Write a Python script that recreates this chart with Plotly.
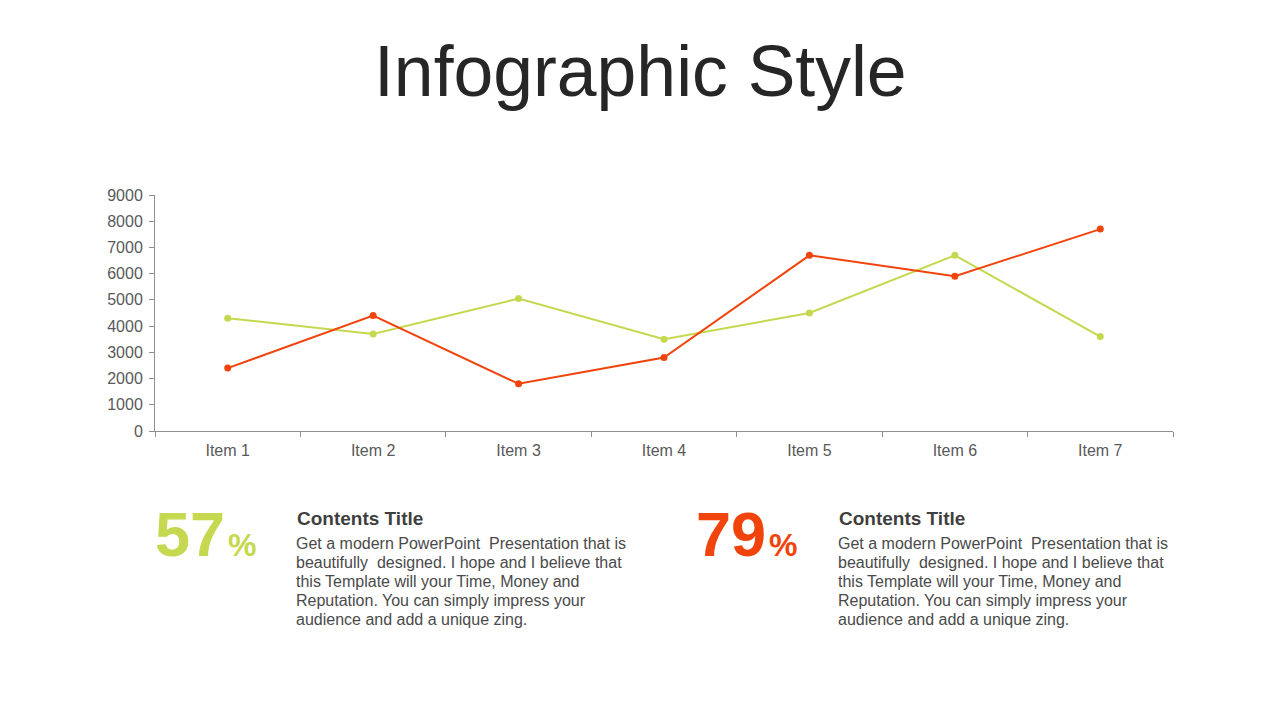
import plotly.graph_objects as go

categories = ["Item 1", "Item 2", "Item 3", "Item 4", "Item 5", "Item 6", "Item 7"]
series_green = [4300, 3700, 5050, 3500, 4500, 6700, 3600]
series_red = [2400, 4400, 1800, 2800, 6700, 5900, 7700]
y_ticks = [0, 1000, 2000, 3000, 4000, 5000, 6000, 7000, 8000, 9000]

GREEN = "#c5d84f"
RED = "#f0440c"
W, H = 1280, 720

fig = go.Figure()
fig.add_trace(go.Scatter(x=categories, y=series_green, mode="lines+markers",
                         line=dict(color=GREEN, width=2), marker=dict(color=GREEN, size=7),
                         name="Series 2"))
fig.add_trace(go.Scatter(x=categories, y=series_red, mode="lines+markers",
                         line=dict(color=RED, width=2), marker=dict(color=RED, size=7),
                         name="Series 1"))

fig.update_layout(
    width=W, height=H,
    margin=dict(l=0, r=0, t=0, b=0, pad=0, autoexpand=False),
    paper_bgcolor="white", plot_bgcolor="white",
    showlegend=False,
    font=dict(family="Liberation Sans, Arial, sans-serif", color="#595959"),
    xaxis=dict(domain=[155 / W, 1173 / W], range=[-0.5, 6.5], type="category",
               showgrid=False, showline=True, linecolor="#8f8f8f", linewidth=1,
               ticks="outside", tickson="boundaries", ticklen=5, tickcolor="#8f8f8f",
               ticklabelstandoff=5,
               tickfont=dict(size=16, color="#595959"), zeroline=False, fixedrange=True,
               automargin=False),
    yaxis=dict(domain=[1 - 431 / H, 1 - 195 / H], range=[0, 9000],
               tickvals=y_ticks, ticktext=[str(v) for v in y_ticks],
               showgrid=False, showline=True, linecolor="#8f8f8f", linewidth=1,
               ticks="outside", ticklen=5, tickcolor="#8f8f8f",
               ticklabelstandoff=3,
               tickfont=dict(size=16, color="#595959"), zeroline=False, fixedrange=True,
               automargin=False),
)

def px(x):
    return x / W

def py(y):
    return 1 - y / H

ann = []
ann.append(dict(text="Infographic Style", x=0.5, y=py(71), xanchor="center", yanchor="middle",
                font=dict(size=71.5, color="#262626")))

body = ["Get a modern PowerPoint  Presentation that is",
        "beautifully  designed. I hope and I believe that",
        "this Template will your Time, Money and",
        "Reputation. You can simply impress your",
        "audience and add a unique zing."]

for num, color, nx, tx in [("57", GREEN, 153, 295), ("79", RED, 694, 837)]:
    ann.append(dict(text="<b>" + num + "</b>", x=px(nx), y=py(534), xanchor="left", yanchor="middle",
                    font=dict(size=63, color=color)))
    ann.append(dict(text="<b>%</b>", x=px(nx + 73), y=py(545), xanchor="left", yanchor="middle",
                    font=dict(size=32, color=color)))
    ann.append(dict(text="<b>Contents Title</b>", x=px(tx), y=py(518), xanchor="left", yanchor="middle",
                    font=dict(size=19, color="#3f3f3f")))
    for i, line in enumerate(body):
        ann.append(dict(text=line, x=px(tx - 1), y=py(543 + 19 * i), xanchor="left", yanchor="middle",
                        font=dict(size=16, color="#4a4a4a")))

for a in ann:
    a.update(xref="paper", yref="paper", showarrow=False)
fig.update_layout(annotations=ann)

fig.write_html("out.html", config={"displayModeBar": False})

with open("out.html", "r", encoding="utf-8") as f:
    html = f.read()
html = html.replace("<head>", "<head><style>html,body{margin:0;padding:0;overflow:hidden;}</style>", 1)
with open("out.html", "w", encoding="utf-8") as f:
    f.write(html)
